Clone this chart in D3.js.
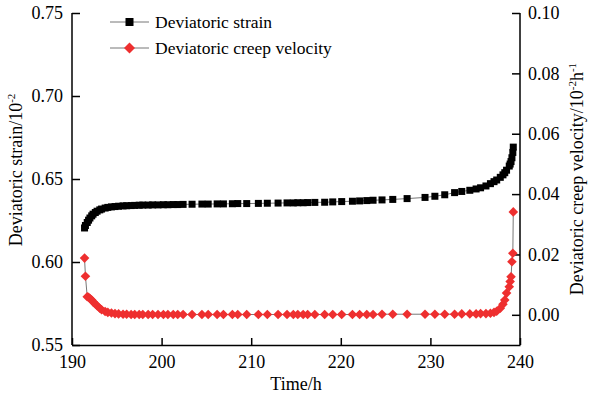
<!DOCTYPE html>
<html><head><meta charset="utf-8">
<script src="https://cdn.jsdelivr.net/npm/d3@7"></script>
<style>
html,body{margin:0;padding:0;background:#fff;}
text{font-family:"Liberation Serif","Times New Roman",serif;fill:#000;}
</style></head>
<body><svg id="c" width="613" height="405"></svg>
<script>
// ---- data ----
const time = [
191.4,191.5,191.7,191.85,192.0,192.2,192.35,192.6,192.8,193.1,193.3,193.7,194.0,194.4,194.8,195.2,195.7,196.1,196.6,197.0,197.5,
197.9,198.5,199.0,199.6,200.2,200.7,201.3,201.8,202.4,203.4,204.5,205.2,206.2,206.9,207.9,208.5,209.5,210.8,211.8,213.0,214.0,214.7,215.2,215.8,216.3,217.1,218.2,219.1,220.1,221.3,222.1,222.9,223.6,224.6,225.8,227.4,229.4,230.5,231.6,232.7,
233.5,234.4,235.1,235.6,236.2,236.7,237.1,237.4,237.8,238.1,238.3,238.5,238.8,238.9,239.0,239.1,239.2,239.25];
const strain = [
0.6205,0.622,0.6238,0.6252,0.6265,0.6278,0.6288,0.6298,0.6306,0.6314,0.6319,0.6325,0.6329,0.6332,0.6334,0.6336,0.6338,0.6339,0.634,0.6341,0.6342,
0.6343,0.6343,0.6344,0.6344,0.6345,0.6345,0.6346,0.6346,0.6347,0.6348,0.6349,0.6349,0.635,0.635,0.6351,0.6352,0.6352,0.6353,0.6354,0.6355,0.6356,0.6356,0.6357,0.6357,0.6358,0.6359,0.636,0.6362,0.6364,0.6366,0.6368,0.637,0.6372,0.6374,0.6377,0.6382,0.6389,0.6396,0.6405,0.6418,
0.6425,0.6432,0.644,0.6447,0.6458,0.6472,0.6484,0.6494,0.651,0.6525,0.6538,0.6553,0.6578,0.659,0.6605,0.6628,0.666,0.6692];
const velocity = [
0.0188,0.0128,0.0060,0.0058,0.0054,0.0049,0.0043,0.0036,0.0030,0.0022,0.0017,0.0011,0.0008,0.0006,0.0004,0.0003,0.0002,0.0002,0.0001,0.0001,0.0001,
0.0001,0.0001,0.0001,0.0001,0.0001,0.0001,0.0001,0.0001,0.0001,0.0001,0.0001,0.0001,0.0001,0.0001,0.0001,0.0001,0.0001,0.0001,0.0001,0.0001,0.0001,0.0001,0.0001,0.0001,0.0001,0.0001,0.0001,0.0001,0.0001,0.0001,0.0001,0.0001,0.0001,0.0002,0.0002,0.0002,0.0002,0.0002,0.0002,0.0002,
0.0003,0.0003,0.0003,0.0004,0.0004,0.0005,0.0008,0.0012,0.0022,0.0035,0.0049,0.0072,0.0093,0.0110,0.0126,0.0176,0.0204,0.0341];
const xTicks = [190,200,210,220,230,240];
const yLeftTicks = [0.55,0.60,0.65,0.70,0.75];
const yRightTicks = [0.00,0.02,0.04,0.06,0.08,0.10];
const seriesNames = ["Deviatoric strain","Deviatoric creep velocity"];

// ---- layout ----
const L=72, R=520, T=13, B=345;
const svg = d3.select("#c");
const x = d3.scaleLinear().domain([190,240]).range([L,R]);
const yL = d3.scaleLinear().domain([0.55,0.75]).range([B,T]);
const yR = d3.scaleLinear().domain([-0.01,0.10]).range([B,T]);

const fmt2 = d3.format(".2f");
function styleAxis(g){
  g.selectAll("path.domain").attr("stroke","#000").attr("stroke-width",1.5);
  g.selectAll(".tick line").attr("stroke","#000").attr("stroke-width",1.5);
  g.selectAll(".tick text").attr("font-family","Liberation Serif, Times New Roman, serif").attr("font-size",18).attr("fill","#000");
}
const gx = svg.append("g").attr("transform",`translate(0,${B})`)
  .call(d3.axisBottom(x).tickValues(xTicks).tickFormat(d3.format("d")).tickSizeInner(-7).tickSizeOuter(0).tickPadding(10));
styleAxis(gx);
const gl = svg.append("g").attr("transform",`translate(${L},0)`)
  .call(d3.axisLeft(yL).tickValues(yLeftTicks).tickFormat(fmt2).tickSizeInner(-8).tickSizeOuter(0).tickPadding(9));
styleAxis(gl);
const gr = svg.append("g").attr("transform",`translate(${R},0)`)
  .call(d3.axisRight(yR).tickValues(yRightTicks).tickFormat(fmt2).tickSizeInner(-8).tickSizeOuter(0).tickPadding(8));
styleAxis(gr);
// right axis line should span full plot
gr.select("path.domain").attr("d",`M0,${T}V${B}`);
gl.select("path.domain").attr("d",`M0,${T}V${B}`);

const idx = d3.range(time.length);
const lineS = d3.line().x(i=>x(time[i])).y(i=>yL(strain[i]));
const lineV = d3.line().x(i=>x(time[i])).y(i=>yR(velocity[i]));
const red = "#ee2f2f";
const diamond = h => `M0,${-h}L${h},0L0,${h}L${-h},0Z`;

svg.append("path").attr("d",lineS(idx)).attr("fill","none").attr("stroke","#777").attr("stroke-width",1);
svg.append("g").selectAll("rect").data(idx).join("rect")
  .attr("x",i=>x(time[i])-3.5).attr("y",i=>yL(strain[i])-3.5).attr("width",7).attr("height",7).attr("fill","#000");

svg.append("path").attr("d",lineV(idx)).attr("fill","none").attr("stroke","#777").attr("stroke-width",1);
svg.append("g").selectAll("path").data(idx).join("path")
  .attr("transform",i=>`translate(${x(time[i])},${yR(velocity[i])})`)
  .attr("d",diamond(4.8)).attr("fill",red);

// legend
const lg = svg.append("g");
[0,1].forEach(k=>{
  const yy = 22 + k*26;
  lg.append("line").attr("x1",110).attr("x2",149).attr("y1",yy).attr("y2",yy).attr("stroke","#777").attr("stroke-width",1);
  if(k===0) lg.append("rect").attr("x",129.5-4).attr("y",yy-4).attr("width",8).attr("height",8).attr("fill","#000");
  else lg.append("path").attr("transform",`translate(129.5,${yy})`).attr("d",diamond(5.5)).attr("fill",red);
  lg.append("text").attr("x",155).attr("y",yy+6).attr("font-size",17.5).text(seriesNames[k]);
});

// axis titles
svg.append("text").attr("x",(L+R)/2).attr("y",390).attr("text-anchor","middle").attr("font-size",18).text("Time/h");
const tl = svg.append("text").attr("transform",`translate(22,170) rotate(-90)`).attr("text-anchor","middle").attr("font-size",18);
tl.append("tspan").text("Deviatoric strain/10");
tl.append("tspan").attr("font-size",11).attr("dy",-7).text("-2");
const tr = svg.append("text").attr("transform",`translate(583,179) rotate(-90)`).attr("text-anchor","middle").attr("font-size",18);
tr.append("tspan").text("Deviatoric creep velocity/10");
tr.append("tspan").attr("font-size",11).attr("dy",-7).text("-2");
tr.append("tspan").attr("dy",7).text("h");
tr.append("tspan").attr("font-size",11).attr("dy",-7).text("-1");
</script></body></html>
